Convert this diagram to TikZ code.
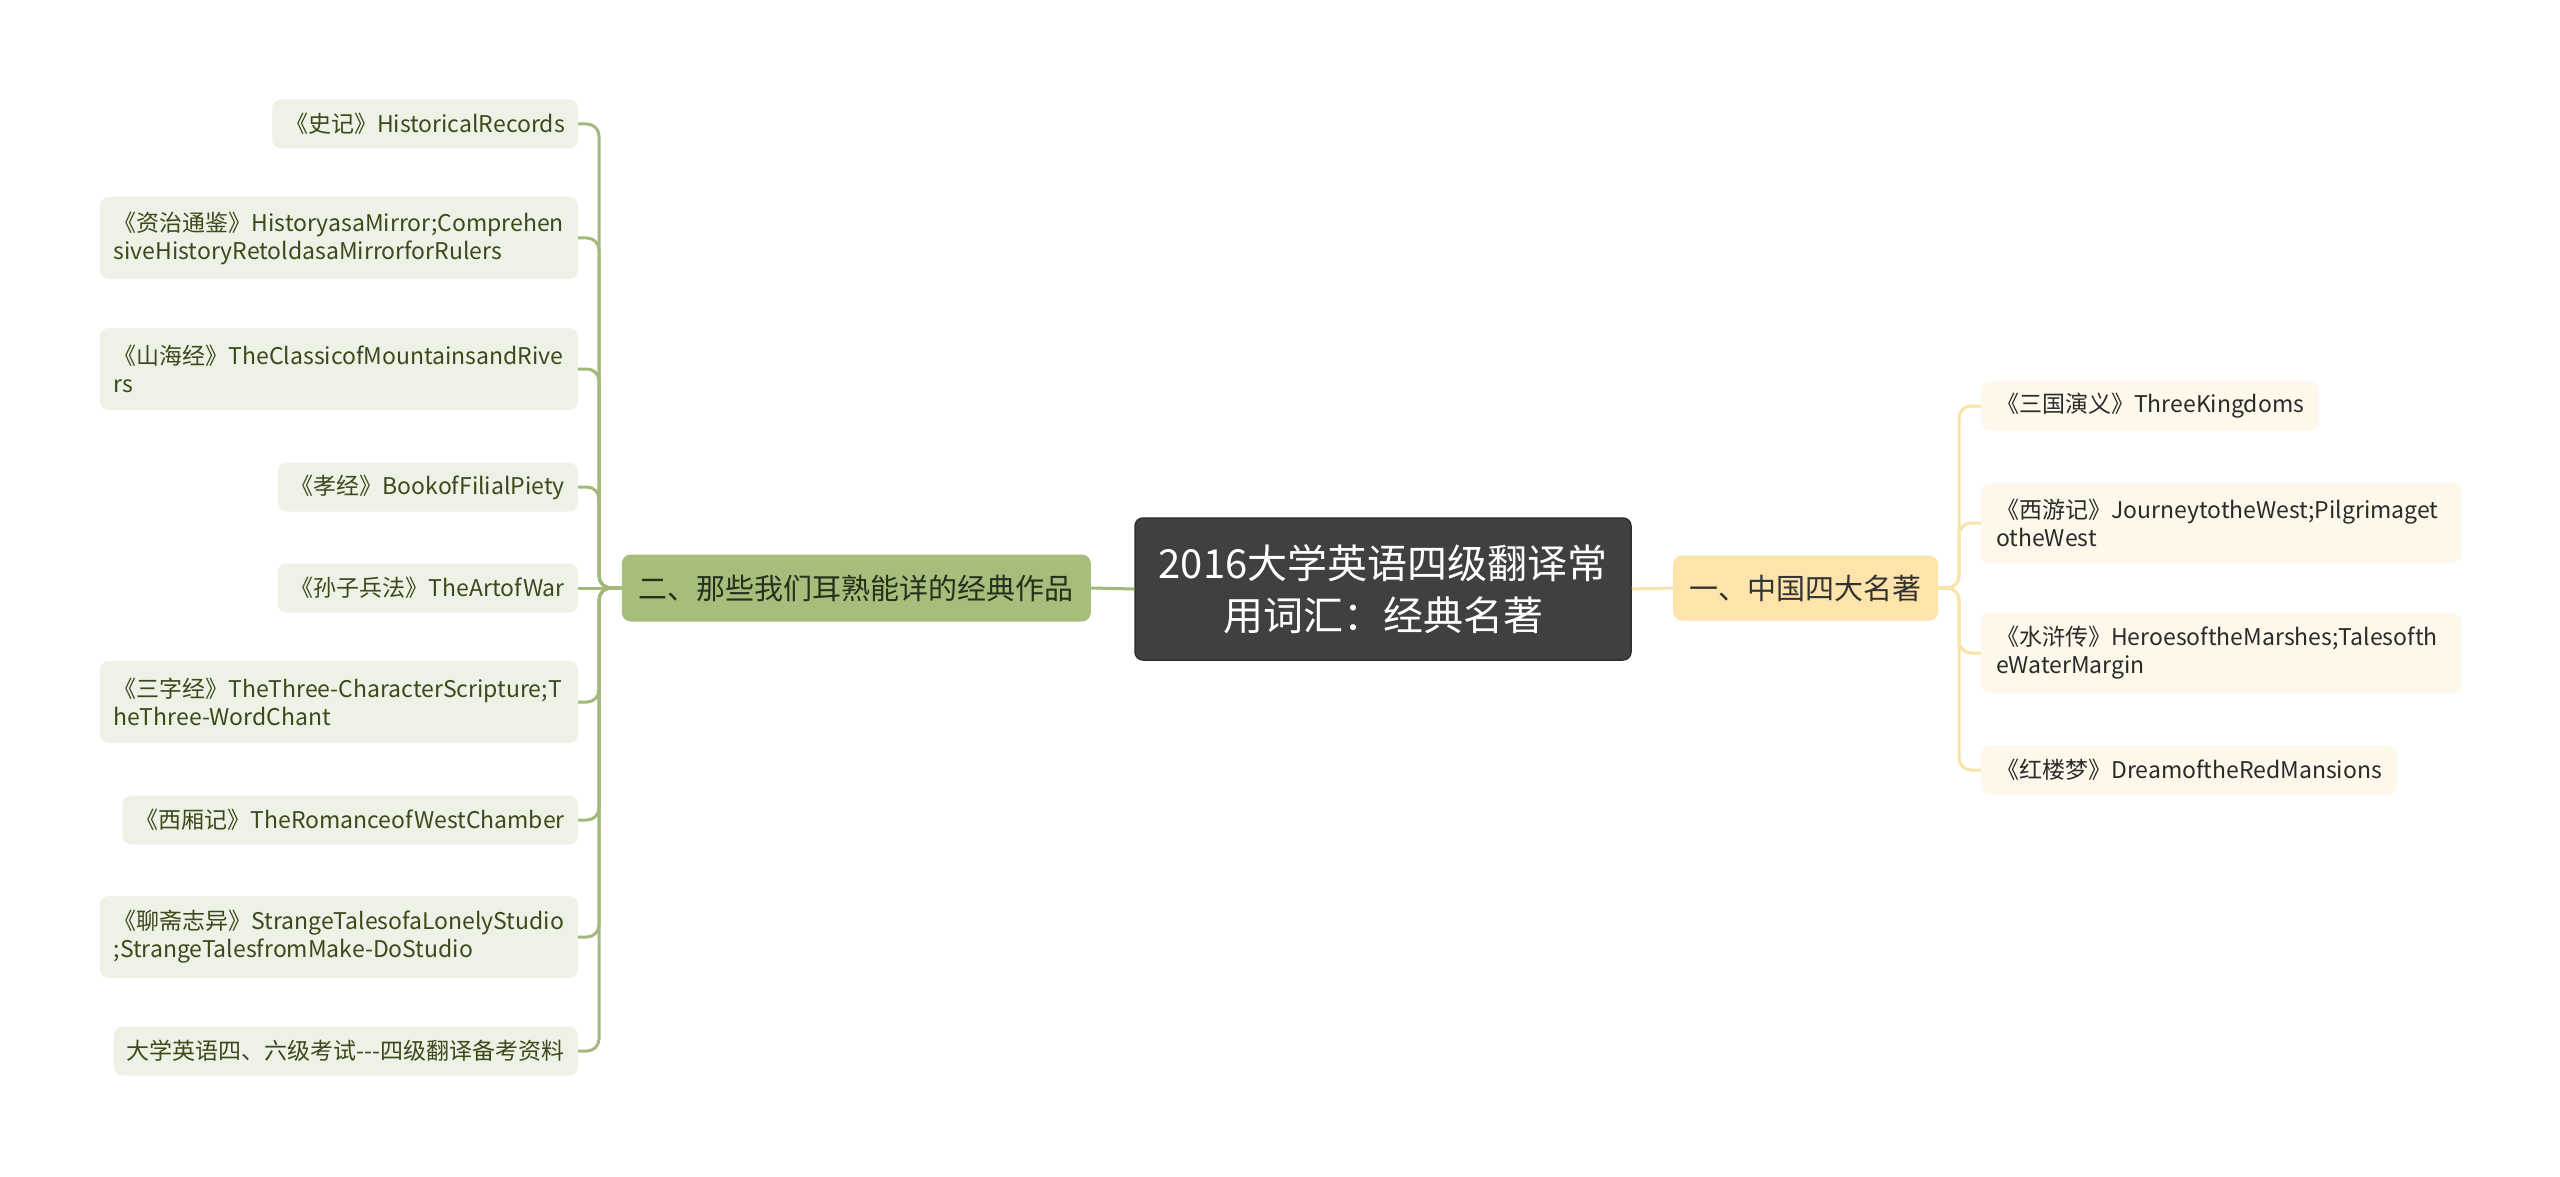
\documentclass[tikz,border=0pt]{standalone}
\usepackage{fontspec}
\setmainfont{Noto Sans CJK SC}
\lefthyphenmin=62
\definecolor{lline}{HTML}{A3B97B}
\definecolor{lfill}{HTML}{EEF1E5}
\definecolor{ltext}{HTML}{3A4A1C}
\definecolor{lmainfill}{HTML}{A5BE7C}
\definecolor{lmaintext}{HTML}{26301A}
\definecolor{rline}{HTML}{F8E3A8}
\definecolor{rfill}{HTML}{FDF8EA}
\definecolor{rtext}{HTML}{2A2A2A}
\definecolor{rmainfill}{HTML}{FCE4AA}
\definecolor{rmaintext}{HTML}{333333}
\definecolor{rootfill}{HTML}{404040}
\definecolor{rootdraw}{HTML}{2E2E2E}
\begin{document}
\begin{tikzpicture}[x=1pt,y=-1pt,
  lchild/.style={anchor=east, fill=lfill, text=ltext, rounded corners=9pt, inner xsep=13pt, inner ysep=3pt, minimum height=49pt, font=\fontsize{23}{28}\selectfont, align=left},
  lwide/.style={lchild, inner xsep=14pt, text width=450pt, minimum height=82pt},
  rchild/.style={anchor=west, fill=rfill, text=rtext, rounded corners=9pt, inner xsep=15pt, inner ysep=3pt, minimum height=49pt, font=\fontsize{23}{28}\selectfont, align=left},
  rwide/.style={rchild, text width=450pt, minimum height=80pt},
  lmain/.style={fill=lmainfill, text=lmaintext, rounded corners=9pt, inner xsep=14pt, minimum width=469pt, minimum height=67pt, font=\fontsize{29}{35}\selectfont},
  rmain/.style={fill=rmainfill, text=rmaintext, rounded corners=9pt, inner xsep=15pt, minimum width=265pt, minimum height=65pt, font=\fontsize{29}{35}\selectfont},
  rootbox/.style={fill=rootfill, draw=rootdraw, line width=1.5pt, text=white, rounded corners=8pt, minimum width=496pt, minimum height=142pt, text width=460pt, align=center, font=\fontsize{40}{52}\selectfont},
  lconn/.style={draw=lline, line width=3pt, rounded corners=12pt},
  rconn/.style={draw=rline, line width=3pt, rounded corners=12pt}
]
\useasboundingbox (0,0) rectangle (2560,1177);
\fill[white] (0,0) rectangle (2560,1177);

% main nodes
\node[rootbox] (root) at (1383,589) {2016大学英语四级翻译常\\用词汇：经典名著};
\node[lmain, anchor=east] (L) at (1091,588) {二、那些我们耳熟能详的经典作品};
\node[rmain, anchor=west] (R) at (1673,588) {一、中国四大名著};

% left children
\node[lchild] (c1) at (578,124) {《史记》HistoricalRecords};
\node[lwide] (c2) at (578,238) {《资治通鉴》HistoryasaMirror;Comprehen\\siveHistoryRetoldasaMirrorforRulers};
\node[lwide] (c3) at (578,369) {《山海经》TheClassicofMountainsandRive\\rs};
\node[lchild] (c4) at (578,487) {《孝经》BookofFilialPiety};
\node[lchild] (c5) at (578,588) {《孙子兵法》TheArtofWar};
\node[lwide] (c6) at (578,702) {《三字经》TheThree-CharacterScripture;T\\heThree-WordChant};
\node[lchild] (c7) at (578,820) {《西厢记》TheRomanceofWestChamber};
\node[lwide] (c8) at (578,937) {《聊斋志异》StrangeTalesofaLonelyStudio\\;StrangeTalesfromMake-DoStudio};
\node[lchild] (c9) at (578,1051) {大学英语四、六级考试{-}{-}{-}四级翻译备考资料};

% right children
\node[rchild] (r1) at (1981,406) {《三国演义》ThreeKingdoms};
\node[rwide] (r2) at (1981,523) {《西游记》JourneytotheWest;Pilgrimaget\\otheWest};
\node[rwide] (r3) at (1981,653) {《水浒传》HeroesoftheMarshes;Talesofth\\eWaterMargin};
\node[rchild] (r4) at (1981,770) {《红楼梦》DreamoftheRedMansions};

% connectors
\draw[lconn] (root.west) -- (L.east);
\draw[rconn] (root.east) -- (R.west);
\foreach \c in {c1,c2,c3,c4,c6,c7,c8,c9}{
  \draw[lconn] (L.west) -| ([xshift=21pt]\c.east) -- (\c.east);
}
\draw[lconn] (L.west) -- (c5.east);
\foreach \c in {r1,r2,r3,r4}{
  \draw[rconn] (R.east) -| ([xshift=-22pt]\c.west) -- (\c.west);
}
\end{tikzpicture}
\end{document}
